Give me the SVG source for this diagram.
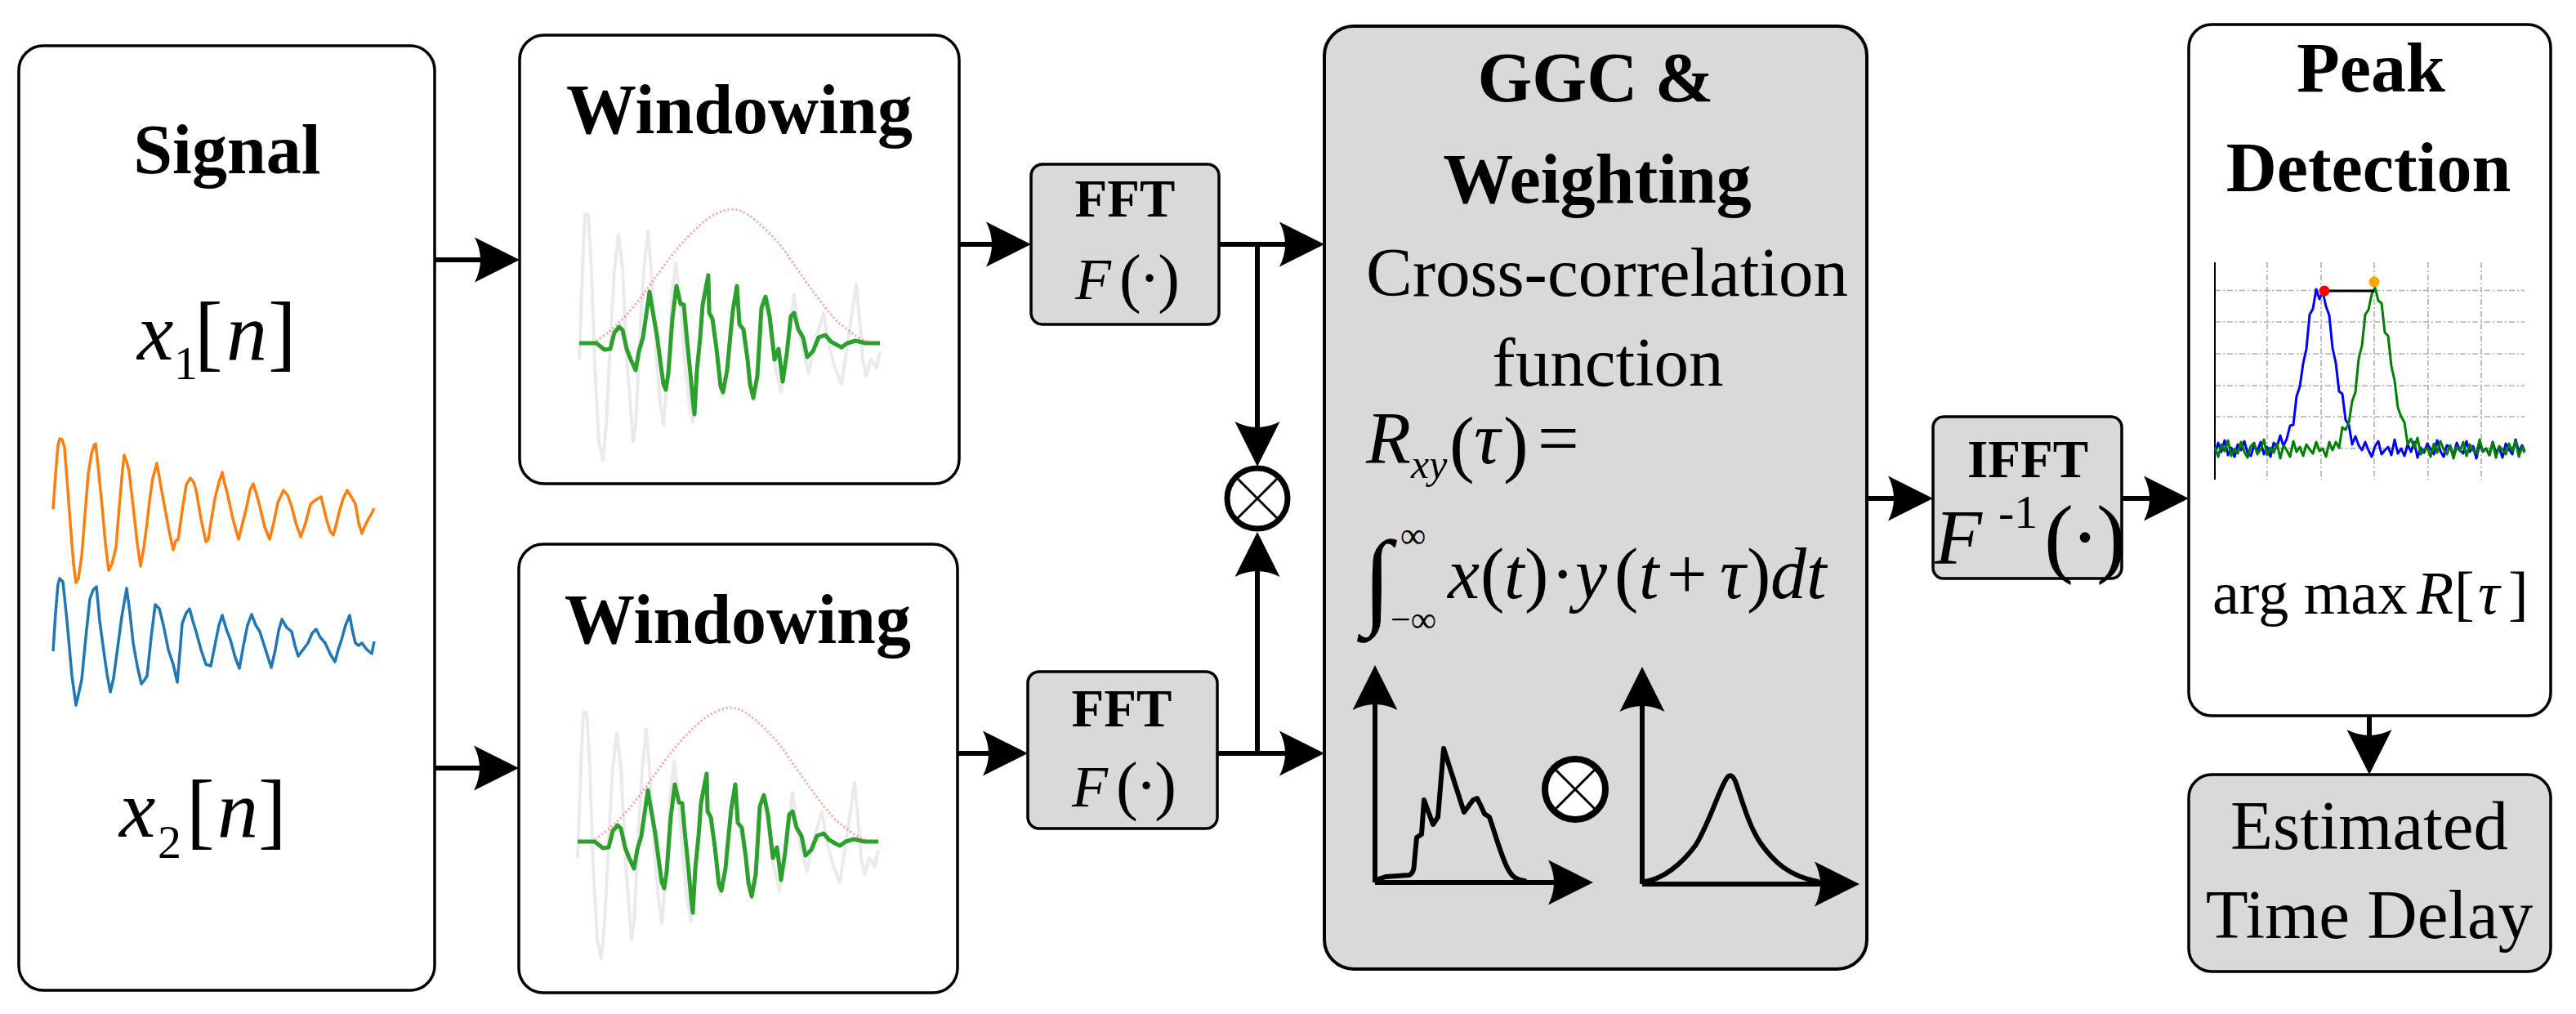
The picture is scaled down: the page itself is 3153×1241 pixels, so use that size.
<svg xmlns="http://www.w3.org/2000/svg" width="3153" height="1241" viewBox="0 0 3153 1241">
<defs>
<marker id="ah" markerUnits="userSpaceOnUse" markerWidth="60" markerHeight="60" viewBox="-58 -30 60 60" refX="-30" refY="0" orient="auto">
<path d="M0,0 L-55,-27.5 Q-41,0 -55,27.5 Z" fill="#000"/>
</marker>
<style>
.box{fill:#fff;stroke:#000;stroke-width:3.5}
.gbox{fill:#d9d9d9;stroke:#000;stroke-width:3.5}
.hd{font-family:"Liberation Serif","Times New Roman",serif;font-weight:bold;font-size:86px;text-anchor:middle}
.sh{font-family:"Liberation Serif","Times New Roman",serif;font-weight:bold;font-size:65px;text-anchor:middle}
.tx{font-family:"Liberation Serif","Times New Roman",serif;font-size:85px;text-anchor:middle}
.m{font-family:"Liberation Serif","Times New Roman",serif}
.i{font-style:italic}
.conn{fill:none;stroke:#000;stroke-width:6;marker-end:url(#ah)}
.crv{fill:none;stroke:#000;stroke-width:6;stroke-linejoin:round;stroke-linecap:round}
.ox circle{fill:#fff;stroke:#000;stroke-width:7}
.ox line{stroke:#000;stroke-width:3}
.gray{fill:none;stroke:#dcdcdc;stroke-width:4;opacity:0.6;stroke-linejoin:round}
.wgreen{fill:none;stroke:#2ca02c;stroke-width:5;stroke-linejoin:round}
.hann{fill:none;stroke:#ff5050;stroke-width:3;stroke-dasharray:2 3;opacity:0.55}
.grid{stroke:#b0b0b0;stroke-width:1.6;stroke-dasharray:7 3 2 3}
.sig{fill:none;stroke-width:3.5;stroke-linejoin:round}
</style>
<g id="winplot">
<polyline class="gray" points="709,440 713,330 716,262 720,262 724,330 728,450 733,540 738,563 742,520 747,420 752,330 757,287 762,330 768,450 775,540 778,520 783,420 788,330 793,283 797,330 803,430 808,490 812,520 818,450 822,370 827,322 832,360 838,440 843,490 848,517 853,460 860,380 866,335 870,385 877,427 884,485 890,450 897,380 902,350 907,400 915,440 922,490 928,450 934,370 940,385 948,445 956,480 963,430 972,360 977,400 983,430 990,457 997,420 1003,400 1008,383 1014,420 1022,450 1030,470 1036,430 1042,390 1048,348 1052,390 1056,440 1060,460 1066,440 1073,450 1077,430"/>
<polyline class="wgreen" points="709,420 730,420 740,428 747,427 752,407 758,400 762,404 767,427 772,440 778,453 782,430 787,413 795,357 797,370 800,387 804,410 807,433 812,470 815,477 818,457 823,390 828,350 833,372 837,373 840,407 845,457 848,490 850,507 853,453 857,413 860,373 864,352 867,337 868,383 872,390 877,427 882,473 885,480 890,453 894,410 897,380 902,350 905,397 910,403 915,440 918,470 922,487 927,460 932,377 937,363 942,387 948,440 953,427 958,467 963,433 968,387 972,383 977,403 983,413 988,437 995,430 1002,413 1010,410 1017,418 1024,422 1030,425 1037,420 1047,417 1060,420 1077,420"/>
<path class="hann" d="M730,417 C750,405 770,385 797,347 C815,322 835,292 867,267 C880,259 890,256 897,256 C910,257 920,265 933,277 C950,293 960,305 967,317 C980,335 990,350 1000,363 C1015,383 1025,395 1033,400 C1045,410 1055,417 1063,418"/>
</g>
</defs>
<rect width="3153" height="1241" fill="#fff"/>

<g id="signal">
<rect class="box" x="23" y="56" width="509" height="1156" rx="30"/>
<text class="hd" x="278" y="212">Signal</text>
<text class="m" font-size="100"><tspan class="i" x="168" y="440">x</tspan><tspan x="213" y="464" font-size="58">1</tspan><tspan x="238" y="441" font-size="104">[</tspan><tspan class="i" x="277" y="440">n</tspan><tspan x="328" y="441" font-size="104">]</tspan></text>
<polyline class="sig" stroke="#ff7f0e" points="65,623 68,580 71,545 73,537 76,538 79,548 83,600 87,653 90,690 93,713 96,708 100,680 104,630 108,580 112,555 115,545 117,543 120,570 125,620 129,665 133,698 137,690 142,670 146,620 150,575 152,557 155,565 158,577 163,620 168,665 172,693 176,670 180,640 183,613 187,585 192,567 196,590 202,623 207,650 212,673 215,662 218,660 223,625 228,593 233,585 237,590 240,600 246,635 252,663 255,660 258,640 263,610 268,590 272,578 275,592 278,603 285,635 292,660 297,640 302,620 306,600 310,592 314,605 318,620 324,645 330,660 335,640 340,615 347,600 352,606 357,620 362,640 368,657 374,640 380,617 386,612 393,608 397,625 400,637 404,650 408,655 412,640 415,627 420,610 425,600 430,608 435,617 439,640 443,653 446,645 450,637 455,628 458,622"/>
<polyline class="sig" stroke="#1f77b4" points="65,797 68,750 71,715 73,708 77,712 82,760 88,827 93,863 96,850 100,832 105,780 110,733 114,722 118,718 122,760 127,797 131,825 135,847 139,830 143,800 149,755 155,720 159,750 163,787 168,815 173,837 177,832 180,827 185,780 190,740 195,745 200,765 206,795 212,813 217,835 220,800 223,763 228,750 232,745 236,760 240,773 246,795 252,813 258,815 263,790 268,765 272,753 277,770 282,783 288,805 293,818 298,790 303,765 308,752 313,765 318,773 325,795 332,817 337,795 341,772 345,758 351,768 357,773 361,790 365,803 371,795 377,787 382,775 387,770 392,780 398,787 404,800 410,810 414,795 418,783 423,765 428,753 431,770 435,787 439,790 443,787 449,795 455,800 458,785"/>
<text class="m" font-size="100"><tspan class="i" x="146" y="1024">x</tspan><tspan x="193" y="1050" font-size="58">2</tspan><tspan x="228" y="1026" font-size="104">[</tspan><tspan class="i" x="266" y="1024">n</tspan><tspan x="316" y="1026" font-size="104">]</tspan></text>
</g>

<g id="window1">
<rect class="box" x="636" y="43" width="538" height="549" rx="30"/>
<text class="hd" x="905" y="163">Windowing</text>
<use href="#winplot"/>
</g>

<g id="window2">
<rect class="box" x="635" y="666" width="537" height="549" rx="30"/>
<text class="hd" x="903" y="787">Windowing</text>
<use href="#winplot" transform="translate(-2,610)"/>
</g>

<g id="fft1">
<rect class="gbox" x="1262" y="201" width="230" height="196" rx="14"/>
<text class="sh" x="1377" y="265">FFT</text>
<text class="m" font-size="72"><tspan class="i" x="1316" y="366">F</tspan><tspan x="1370" y="367" font-size="80" letter-spacing="-3">(·)</tspan></text>
</g>

<g id="fft2">
<rect class="gbox" x="1258" y="822" width="232" height="192" rx="14"/>
<text class="sh" x="1373" y="889">FFT</text>
<text class="m" font-size="72"><tspan class="i" x="1312" y="987">F</tspan><tspan x="1366" y="988" font-size="80" letter-spacing="-3">(·)</tspan></text>
</g>

<g id="mult1" class="ox">
<circle cx="1539" cy="610" r="37"/>
<line x1="1513" y1="584" x2="1565" y2="636"/>
<line x1="1565" y1="584" x2="1513" y2="636"/>
</g>

<g id="ggc">
<rect class="gbox" x="1621" y="32" width="664" height="1154" rx="36" style="stroke-width:4"/>
<text class="hd" x="1953" y="124">GGC &amp;</text>
<text class="hd" x="1955" y="248">Weighting</text>
<text class="tx" x="1967" y="362">Cross-correlation</text>
<text class="tx" x="1968" y="472">function</text>
<text class="m" font-size="90"><tspan class="i" x="1672" y="567">R</tspan><tspan class="i" x="1727" y="585" font-size="50">xy</tspan><tspan x="1774" y="573" font-size="92">(</tspan><tspan class="i" x="1804" y="567">τ</tspan><tspan x="1840" y="573" font-size="92">)</tspan><tspan x="1882" y="567">=</tspan></text>
<text class="m" font-size="130" x="1668" y="752">∫</text>
<text class="m" font-size="44" x="1714" y="670">∞</text>
<text class="m" font-size="44" x="1702" y="773">−∞</text>
<text class="m" font-size="88"><tspan class="i" x="1772" y="732">x</tspan><tspan x="1812" y="732">(</tspan><tspan class="i" x="1841" y="732">t</tspan><tspan x="1866" y="732">)</tspan><tspan x="1898" y="732">·</tspan><tspan class="i" x="1928" y="732">y</tspan><tspan x="1976" y="732">(</tspan><tspan class="i" x="2006" y="732">t</tspan><tspan x="2040" y="732">+</tspan><tspan class="i" x="2105" y="732">τ</tspan><tspan x="2138" y="732">)</tspan><tspan class="i" x="2167" y="732">d</tspan><tspan class="i" x="2211" y="732">t</tspan></text>
<path class="conn" d="M1683,1080 V844"/>
<path class="conn" d="M1683,1080 H1920"/>
<path class="crv" d="M1687,1076 L1696,1073 L1725,1071 Q1731,1068 1731,1057 L1734,1025 L1740,1021 L1743,979 L1754,1009 L1760,1000 L1767,916 L1792,994 L1803,979 L1808,977 L1812,985 L1817,996 L1823,1000 C1830,1020 1838,1050 1846,1064 C1851,1073 1856,1077 1866,1078"/>
<g class="ox">
<circle cx="1928" cy="966" r="37" style="stroke-width:8"/>
<line x1="1902" y1="940" x2="1954" y2="992"/>
<line x1="1954" y1="940" x2="1902" y2="992"/>
</g>
<path class="conn" d="M2010,1082 V846"/>
<path class="conn" d="M2010,1082 H2246"/>
<path class="crv" d="M2013,1079 C2035,1076 2058,1058 2075,1035 C2090,1012 2103,970 2112,955 Q2118,943 2124,956 C2132,978 2140,1010 2155,1032 C2172,1056 2190,1072 2225,1079"/>
</g>

<g id="ifft">
<rect class="gbox" x="2366" y="510" width="231" height="198" rx="13"/>
<text class="sh" x="2482" y="584">IFFT</text>
<text class="m" font-size="95"><tspan class="i" x="2368" y="690">F</tspan><tspan x="2446" y="646" font-size="58">-1</tspan><tspan x="2502" y="693" font-size="108" letter-spacing="-4">(·)</tspan></text>
</g>

<g id="peak">
<rect class="box" x="2679" y="30" width="443" height="846" rx="28"/>
<text class="hd" x="2902" y="112">Peak</text>
<text class="hd" x="2899" y="234">Detection</text>
<g class="grid">
<line x1="2775" y1="321" x2="2775" y2="587"/>
<line x1="2841" y1="321" x2="2841" y2="587"/>
<line x1="2906" y1="321" x2="2906" y2="587"/>
<line x1="2972" y1="321" x2="2972" y2="587"/>
<line x1="3037" y1="321" x2="3037" y2="587"/>
<line x1="2711" y1="355.5" x2="3090" y2="355.5"/>
<line x1="2711" y1="394" x2="3090" y2="394"/>
<line x1="2711" y1="433" x2="3090" y2="433"/>
<line x1="2711" y1="472" x2="3090" y2="472"/>
<line x1="2711" y1="510" x2="3090" y2="510"/>
<line x1="2711" y1="548.6" x2="3090" y2="548.6"/>
</g>
<line x1="2711" y1="321" x2="2711" y2="587" stroke="#000" stroke-width="2"/>
<polyline fill="none" stroke="#0000ff" stroke-width="3" stroke-linejoin="round" points="2711,555 2715,542 2719,553 2723,539 2727,557 2731,548 2735,559 2739,544 2743,551 2747,540 2751,554 2755,558 2759,545 2763,552 2767,541 2771,556 2775,547 2779,559 2783,542 2787,547 2791,533 2795,546 2799,537 2803,521 2807,520 2811,485 2815,473 2819,445 2823,427 2827,385 2831,378 2835,354 2839,366 2843,357 2847,375 2851,386 2855,426 2859,444 2863,479 2867,482 2871,514 2875,520 2879,544 2883,534 2887,545 2891,551 2895,541 2899,551 2903,559 2907,546 2911,540 2915,556 2919,551 2923,547 2927,557 2931,538 2935,555 2939,549 2943,558 2947,544 2951,553 2955,541 2959,560 2963,548 2967,554 2971,543 2975,550 2979,556 2983,539 2987,552 2991,559 2995,545 2999,547 3003,558 3007,542 3011,551 3015,555 3019,540 3023,553 3027,546 3031,561 3035,544 3039,552 3043,549 3047,557 3051,541 3055,554 3059,548 3063,560 3067,543 3071,550 3075,556 3079,538 3083,553 3087,545 3090,552"/>
<polyline fill="none" stroke="#008000" stroke-width="3" stroke-linejoin="round" points="2711,547 2715,559 2719,544 2723,552 2727,539 2731,558 2735,549 2739,555 2743,541 2747,553 2751,560 2755,546 2759,542 2763,556 2767,550 2771,538 2775,557 2779,548 2783,554 2787,543 2791,561 2795,545 2799,551 2803,559 2807,540 2811,553 2815,547 2819,558 2823,544 2827,550 2831,555 2835,541 2839,552 2843,549 2847,559 2851,541 2855,551 2859,541 2863,548 2867,523 2871,526 2875,517 2879,491 2883,480 2887,439 2891,423 2895,385 2899,379 2903,360 2907,352 2911,368 2915,371 2919,407 2923,411 2927,448 2931,466 2935,499 2939,510 2943,517 2947,544 2951,537 2955,548 2959,536 2963,556 2967,550 2971,548 2975,559 2979,543 2983,554 2987,540 2991,550 2995,556 2999,545 3003,561 3007,547 3011,552 3015,541 3019,558 3023,544 3027,551 3031,555 3035,538 3039,553 3043,549 3047,557 3051,542 3055,560 3059,546 3063,550 3067,556 3071,543 3075,552 3079,540 3083,559 3087,547 3090,554"/>
<line x1="2845" y1="356" x2="2906" y2="356" stroke="#000" stroke-width="3"/>
<circle cx="2845" cy="356" r="6.5" fill="#ff0000"/>
<circle cx="2906" cy="345" r="6.5" fill="#ffa500"/>
<text class="m" font-size="74"><tspan x="2708" y="751">arg max</tspan><tspan class="i" x="2958" y="751">R</tspan><tspan x="3004" y="751">[</tspan><tspan class="i" x="3033" y="751">τ</tspan><tspan x="3070" y="751">]</tspan></text>
</g>

<g id="estimated">
<rect class="gbox" x="2679" y="948" width="443" height="241" rx="28"/>
<text class="tx" x="2900" y="1039">Estimated</text>
<text class="tx" x="2900" y="1148">Time Delay</text>
</g>

<g id="connectors">
<path class="conn" d="M532,318 H606"/>
<path class="conn" d="M532,940 H605"/>
<path class="conn" d="M1174,299 H1232"/>
<path class="conn" d="M1172,922 H1228"/>
<path class="conn" d="M1492,299 H1591"/>
<path class="conn" d="M1490,922 H1591"/>
<path class="conn" d="M1539,299 V541"/>
<path class="conn" d="M1539,922 V681"/>
<path class="conn" d="M2285,610 H2336"/>
<path class="conn" d="M2597,610 H2649"/>
<path class="conn" d="M2900,876 V918"/>
</g>
</svg>
